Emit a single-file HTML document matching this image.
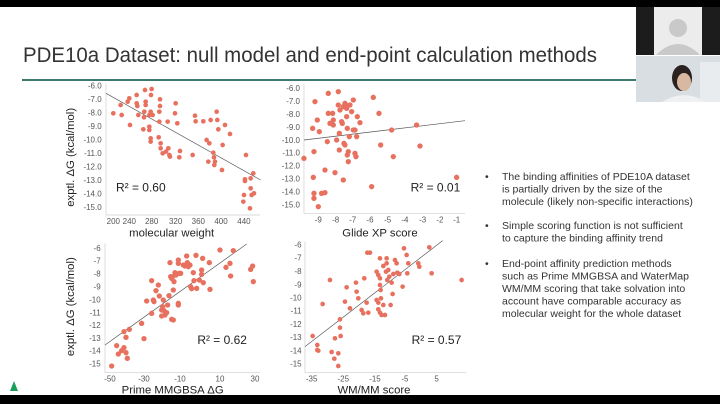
<!DOCTYPE html>
<html><head><meta charset="utf-8"><style>
html,body{margin:0;padding:0;background:#fff;width:720px;height:404px;overflow:hidden;font-family:"Liberation Sans",sans-serif}
</style></head><body>
<svg width="720" height="404" viewBox="0 0 720 404" xmlns="http://www.w3.org/2000/svg" font-family="Liberation Sans, sans-serif">
<rect width="720" height="404" fill="#fff"/>
<rect x="0" y="0" width="720" height="7" fill="#000"/>
<rect x="0" y="395" width="720" height="9" fill="#000"/>
<polygon points="14,381 10,391 18,391" fill="#1a9e5a"/>
<text x="23" y="62" font-size="21" fill="#333" textLength="574" lengthAdjust="spacingAndGlyphs">PDE10a Dataset: null model and end-point calculation methods</text>
<rect x="22" y="79" width="614" height="2" fill="#3d7a6e"/>
<!-- video panels -->
<rect x="636" y="7" width="84" height="48" fill="#1c1c1c"/>
<rect x="654" y="7" width="48" height="48" fill="#ececec"/>
<circle cx="678" cy="28" r="9" fill="#c9c9c9"/>
<path d="M656 55 Q678 33 700 55Z" fill="#c9c9c9"/>
<rect x="636" y="56" width="84" height="46" fill="#d9dee2"/>
<rect x="700" y="62" width="20" height="40" fill="#e8ecee"/>
<ellipse cx="682" cy="78" rx="10" ry="13" fill="#2a2220"/>
<ellipse cx="684" cy="82" rx="7" ry="9" fill="#d8b8a0"/>
<path d="M662 102 Q684 88 706 102Z" fill="#eef0f2"/>

<g transform="translate(0,80) scale(0.3333)" font-size="24" fill="#555">
<!-- chart1 -->
<line x1="318" y1="10" x2="318" y2="405" stroke="#ccc" stroke-width="2"/>
<line x1="318" y1="405" x2="780" y2="405" stroke="#ccc" stroke-width="2"/>
<g text-anchor="end">
<text x="305" y="26">-6.0</text><text x="305" y="66">-7.0</text><text x="305" y="107">-8.0</text><text x="305" y="147">-9.0</text><text x="305" y="188">-10.0</text><text x="305" y="228">-11.0</text><text x="305" y="268">-12.0</text><text x="305" y="309">-13.0</text><text x="305" y="349">-14.0</text><text x="305" y="390">-15.0</text>
</g>
<g text-anchor="middle">
<text x="340" y="432">200</text><text x="388" y="432">240</text><text x="455" y="432">280</text><text x="527" y="432">320</text><text x="595" y="432">360</text><text x="663" y="432">400</text><text x="732" y="432">440</text>
<text x="515" y="470" font-size="34" fill="#222">molecular weight</text>
<text transform="translate(222,232) rotate(-90)" font-size="34" fill="#222">exptl. ΔG (kcal/mol)</text>
</g>
<text x="348" y="335" font-size="36" fill="#222">R² = 0.60</text>
<line x1="318" y1="40" x2="782" y2="300" stroke="#555" stroke-width="2"/>
<g fill="#e8705e">
<circle cx="340" cy="100" r="7"/><circle cx="365" cy="105" r="7"/><circle cx="362" cy="75" r="7"/><circle cx="388" cy="55" r="7"/><circle cx="383" cy="65" r="7"/><circle cx="410" cy="45" r="7"/><circle cx="410" cy="70" r="7"/><circle cx="412" cy="78" r="7"/><circle cx="415" cy="105" r="7"/><circle cx="390" cy="135" r="7"/><circle cx="435" cy="30" r="7"/><circle cx="437" cy="65" r="7"/><circle cx="437" cy="75" r="7"/><circle cx="433" cy="95" r="7"/><circle cx="432" cy="112" r="7"/><circle cx="430" cy="148" r="7"/><circle cx="455" cy="27" r="7"/><circle cx="453" cy="45" r="7"/><circle cx="452" cy="95" r="7"/><circle cx="448" cy="105" r="7"/><circle cx="458" cy="105" r="7"/><circle cx="448" cy="150" r="7"/><circle cx="448" cy="140" r="7"/><circle cx="452" cy="175" r="7"/><circle cx="452" cy="185" r="7"/><circle cx="480" cy="58" r="7"/><circle cx="480" cy="78" r="7"/><circle cx="478" cy="95" r="7"/><circle cx="478" cy="125" r="7"/><circle cx="476" cy="172" r="7"/><circle cx="482" cy="190" r="7"/><circle cx="482" cy="205" r="7"/><circle cx="488" cy="220" r="7"/><circle cx="505" cy="205" r="7"/><circle cx="508" cy="225" r="7"/><circle cx="510" cy="230" r="7"/><circle cx="498" cy="215" r="7"/><circle cx="527" cy="70" r="7"/><circle cx="525" cy="100" r="7"/><circle cx="503" cy="125" r="7"/><circle cx="532" cy="130" r="7"/><circle cx="540" cy="213" r="7"/><circle cx="538" cy="232" r="7"/><circle cx="578" cy="225" r="7"/><circle cx="585" cy="107" r="7"/><circle cx="587" cy="124" r="7"/><circle cx="610" cy="124" r="7"/><circle cx="620" cy="180" r="7"/><circle cx="625" cy="245" r="7"/><circle cx="628" cy="190" r="7"/><circle cx="632" cy="120" r="7"/><circle cx="640" cy="218" r="7"/><circle cx="642" cy="232" r="7"/><circle cx="643" cy="255" r="7"/><circle cx="645" cy="245" r="7"/><circle cx="650" cy="95" r="7"/><circle cx="652" cy="120" r="7"/><circle cx="655" cy="148" r="7"/><circle cx="668" cy="195" r="7"/><circle cx="666" cy="270" r="7"/><circle cx="675" cy="135" r="7"/><circle cx="690" cy="162" r="7"/><circle cx="738" cy="225" r="7"/><circle cx="735" cy="298" r="7"/><circle cx="735" cy="303" r="7"/><circle cx="732" cy="345" r="7"/><circle cx="730" cy="365" r="7"/><circle cx="752" cy="295" r="7"/><circle cx="752" cy="325" r="7"/><circle cx="755" cy="345" r="7"/><circle cx="760" cy="280" r="7"/><circle cx="762" cy="340" r="7"/><circle cx="750" cy="385" r="7"/>
</g>
<!-- chart2 -->
<line x1="912" y1="10" x2="912" y2="400" stroke="#ccc" stroke-width="2"/>
<line x1="912" y1="400" x2="1395" y2="400" stroke="#ccc" stroke-width="2"/>
<g text-anchor="end">
<text x="900" y="33">-6.0</text><text x="900" y="72">-7.0</text><text x="900" y="111">-8.0</text><text x="900" y="150">-9.0</text><text x="900" y="189">-10.0</text><text x="900" y="227">-11.0</text><text x="900" y="266">-12.0</text><text x="900" y="305">-13.0</text><text x="900" y="344">-14.0</text><text x="900" y="383">-15.0</text>
</g>
<g text-anchor="middle">
<text x="955" y="428">-9</text><text x="1007" y="428">-8</text><text x="1058" y="428">-7</text><text x="1110" y="428">-6</text><text x="1163" y="428">-5</text><text x="1215" y="428">-4</text><text x="1268" y="428">-3</text><text x="1320" y="428">-2</text><text x="1370" y="428">-1</text>
<text x="1140" y="470" font-size="34" fill="#222">Glide XP score</text>
</g>
<text x="1232" y="335" font-size="36" fill="#222">R² = 0.01</text>
<line x1="912" y1="180" x2="1395" y2="122" stroke="#555" stroke-width="2"/>
<g fill="#e8705e">
<circle cx="912" cy="235" r="8"/><circle cx="938" cy="145" r="8"/><circle cx="945" cy="65" r="8"/><circle cx="942" cy="215" r="8"/><circle cx="940" cy="292" r="8"/><circle cx="942" cy="340" r="8"/><circle cx="942" cy="355" r="8"/><circle cx="955" cy="380" r="8"/><circle cx="952" cy="120" r="8"/><circle cx="958" cy="155" r="8"/><circle cx="965" cy="340" r="8"/><circle cx="975" cy="338" r="8"/><circle cx="975" cy="270" r="8"/><circle cx="982" cy="185" r="8"/><circle cx="985" cy="40" r="8"/><circle cx="985" cy="100" r="8"/><circle cx="990" cy="130" r="8"/><circle cx="998" cy="100" r="8"/><circle cx="1000" cy="120" r="8"/><circle cx="1000" cy="135" r="8"/><circle cx="1005" cy="278" r="8"/><circle cx="1010" cy="180" r="8"/><circle cx="1015" cy="35" r="8"/><circle cx="1015" cy="75" r="8"/><circle cx="1018" cy="160" r="8"/><circle cx="1020" cy="90" r="8"/><circle cx="1025" cy="125" r="8"/><circle cx="1027" cy="130" r="8"/><circle cx="1030" cy="80" r="8"/><circle cx="1032" cy="190" r="8"/><circle cx="1035" cy="70" r="8"/><circle cx="1038" cy="75" r="8"/><circle cx="1040" cy="85" r="8"/><circle cx="1040" cy="110" r="8"/><circle cx="1042" cy="145" r="8"/><circle cx="1045" cy="215" r="8"/><circle cx="1042" cy="225" r="8"/><circle cx="1045" cy="245" r="8"/><circle cx="1048" cy="170" r="8"/><circle cx="1050" cy="75" r="8"/><circle cx="1055" cy="95" r="8"/><circle cx="1060" cy="150" r="8"/><circle cx="1060" cy="60" r="8"/><circle cx="1065" cy="150" r="8"/><circle cx="1065" cy="220" r="8"/><circle cx="1068" cy="230" r="8"/><circle cx="1070" cy="170" r="8"/><circle cx="1072" cy="110" r="8"/><circle cx="1080" cy="128" r="8"/><circle cx="1115" cy="320" r="8"/><circle cx="1120" cy="52" r="8"/><circle cx="1137" cy="100" r="8"/><circle cx="1142" cy="195" r="8"/><circle cx="1175" cy="150" r="8"/><circle cx="1180" cy="230" r="8"/><circle cx="1250" cy="135" r="8"/><circle cx="1260" cy="198" r="8"/><circle cx="1370" cy="292" r="8"/><circle cx="1030" cy="300" r="8"/><circle cx="1018" cy="210" r="8"/><circle cx="1035" cy="195" r="8"/>
</g>
</g>

<g transform="translate(0,230) scale(0.3333)" font-size="24" fill="#555">
<!-- chart3 -->
<line x1="315" y1="40" x2="315" y2="428" stroke="#ccc" stroke-width="2"/>
<line x1="315" y1="428" x2="780" y2="428" stroke="#ccc" stroke-width="2"/>
<g text-anchor="end">
<text x="302" y="63">-6</text><text x="302" y="101">-7</text><text x="302" y="140">-8</text><text x="302" y="178">-9</text><text x="302" y="217">-10</text><text x="302" y="256">-11</text><text x="302" y="294">-12</text><text x="302" y="333">-13</text><text x="302" y="371">-14</text><text x="302" y="410">-15</text>
</g>
<g text-anchor="middle">
<text x="330" y="455">-50</text><text x="432" y="455">-30</text><text x="540" y="455">-10</text><text x="660" y="455">10</text><text x="765" y="455">30</text>
<text x="518" y="490" font-size="34" fill="#222">Prime MMGBSA ΔG</text>
<text transform="translate(222,230) rotate(-90)" font-size="34" fill="#222">exptl. ΔG (kcal/mol)</text>
</g>
<text x="592" y="342" font-size="36" fill="#222">R² = 0.62</text>
<line x1="315" y1="345" x2="740" y2="42" stroke="#555" stroke-width="2"/>
<g fill="#e8705e">
<circle cx="335" cy="408" r="8"/><circle cx="350" cy="347" r="8"/><circle cx="355" cy="372" r="8"/><circle cx="365" cy="362" r="8"/><circle cx="372" cy="353" r="8"/><circle cx="378" cy="368" r="8"/><circle cx="372" cy="305" r="8"/><circle cx="378" cy="322" r="8"/><circle cx="382" cy="385" r="8"/><circle cx="388" cy="298" r="8"/><circle cx="425" cy="280" r="8"/><circle cx="432" cy="326" r="8"/><circle cx="440" cy="213" r="8"/><circle cx="455" cy="250" r="8"/><circle cx="455" cy="152" r="8"/><circle cx="460" cy="210" r="8"/><circle cx="462" cy="215" r="8"/><circle cx="468" cy="182" r="8"/><circle cx="475" cy="165" r="8"/><circle cx="478" cy="198" r="8"/><circle cx="485" cy="240" r="8"/><circle cx="485" cy="258" r="8"/><circle cx="488" cy="230" r="8"/><circle cx="490" cy="210" r="8"/><circle cx="495" cy="255" r="8"/><circle cx="492" cy="242" r="8"/><circle cx="500" cy="248" r="8"/><circle cx="503" cy="225" r="8"/><circle cx="507" cy="197" r="8"/><circle cx="510" cy="98" r="8"/><circle cx="512" cy="140" r="8"/><circle cx="515" cy="145" r="8"/><circle cx="518" cy="140" r="8"/><circle cx="520" cy="270" r="8"/><circle cx="515" cy="268" r="8"/><circle cx="520" cy="180" r="8"/><circle cx="522" cy="155" r="8"/><circle cx="525" cy="128" r="8"/><circle cx="528" cy="135" r="8"/><circle cx="535" cy="90" r="8"/><circle cx="535" cy="100" r="8"/><circle cx="535" cy="225" r="8"/><circle cx="535" cy="220" r="8"/><circle cx="538" cy="130" r="8"/><circle cx="542" cy="130" r="8"/><circle cx="550" cy="105" r="8"/><circle cx="555" cy="108" r="8"/><circle cx="560" cy="78" r="8"/><circle cx="562" cy="98" r="8"/><circle cx="565" cy="110" r="8"/><circle cx="570" cy="105" r="8"/><circle cx="572" cy="170" r="8"/><circle cx="575" cy="176" r="8"/><circle cx="580" cy="128" r="8"/><circle cx="582" cy="152" r="8"/><circle cx="588" cy="76" r="8"/><circle cx="590" cy="175" r="8"/><circle cx="598" cy="150" r="8"/><circle cx="605" cy="120" r="8"/><circle cx="605" cy="133" r="8"/><circle cx="608" cy="85" r="8"/><circle cx="610" cy="158" r="8"/><circle cx="628" cy="98" r="8"/><circle cx="630" cy="178" r="8"/><circle cx="660" cy="60" r="8"/><circle cx="678" cy="112" r="8"/><circle cx="690" cy="100" r="8"/><circle cx="692" cy="138" r="8"/><circle cx="700" cy="62" r="8"/><circle cx="752" cy="118" r="8"/><circle cx="758" cy="108" r="8"/><circle cx="760" cy="155" r="8"/>
</g>
<!-- chart4 -->
<line x1="915" y1="35" x2="915" y2="428" stroke="#ccc" stroke-width="2"/>
<line x1="915" y1="428" x2="1400" y2="428" stroke="#ccc" stroke-width="2"/>
<g text-anchor="end">
<text x="905" y="53">-6</text><text x="905" y="92">-7</text><text x="905" y="132">-8</text><text x="905" y="172">-9</text><text x="905" y="211">-10</text><text x="905" y="251">-11</text><text x="905" y="291">-12</text><text x="905" y="330">-13</text><text x="905" y="370">-14</text><text x="905" y="410">-15</text>
</g>
<g text-anchor="middle">
<text x="935" y="455">-35</text><text x="1030" y="455">-25</text><text x="1125" y="455">-15</text><text x="1215" y="455">-5</text><text x="1310" y="455">5</text>
<text x="1122" y="490" font-size="34" fill="#222">WM/MM score</text>
</g>
<text x="1235" y="342" font-size="36" fill="#222">R² = 0.57</text>
<line x1="915" y1="350" x2="1328" y2="32" stroke="#555" stroke-width="2"/>
<g fill="#e8705e">
<circle cx="938" cy="318" r="7"/><circle cx="952" cy="345" r="7"/><circle cx="952" cy="360" r="7"/><circle cx="955" cy="362" r="7"/><circle cx="968" cy="222" r="7"/><circle cx="990" cy="150" r="7"/><circle cx="995" cy="366" r="7"/><circle cx="1003" cy="386" r="7"/><circle cx="1005" cy="325" r="7"/><circle cx="1020" cy="293" r="7"/><circle cx="1015" cy="370" r="7"/><circle cx="1015" cy="408" r="7"/><circle cx="1020" cy="268" r="7"/><circle cx="1022" cy="318" r="7"/><circle cx="1035" cy="215" r="7"/><circle cx="1040" cy="172" r="7"/><circle cx="1050" cy="235" r="7"/><circle cx="1068" cy="158" r="7"/><circle cx="1070" cy="185" r="7"/><circle cx="1075" cy="205" r="7"/><circle cx="1085" cy="240" r="7"/><circle cx="1090" cy="250" r="7"/><circle cx="1093" cy="145" r="7"/><circle cx="1100" cy="218" r="7"/><circle cx="1102" cy="68" r="7"/><circle cx="1105" cy="248" r="7"/><circle cx="1110" cy="68" r="7"/><circle cx="1130" cy="210" r="7"/><circle cx="1135" cy="218" r="7"/><circle cx="1135" cy="238" r="7"/><circle cx="1140" cy="248" r="7"/><circle cx="1140" cy="165" r="7"/><circle cx="1142" cy="180" r="7"/><circle cx="1143" cy="205" r="7"/><circle cx="1145" cy="255" r="7"/><circle cx="1150" cy="225" r="7"/><circle cx="1155" cy="255" r="7"/><circle cx="1158" cy="125" r="7"/><circle cx="1160" cy="85" r="7"/><circle cx="1160" cy="100" r="7"/><circle cx="1162" cy="150" r="7"/><circle cx="1165" cy="120" r="7"/><circle cx="1168" cy="140" r="7"/><circle cx="1172" cy="225" r="7"/><circle cx="1175" cy="158" r="7"/><circle cx="1178" cy="192" r="7"/><circle cx="1180" cy="132" r="7"/><circle cx="1185" cy="90" r="7"/><circle cx="1190" cy="100" r="7"/><circle cx="1192" cy="128" r="7"/><circle cx="1198" cy="132" r="7"/><circle cx="1208" cy="170" r="7"/><circle cx="1212" cy="55" r="7"/><circle cx="1220" cy="75" r="7"/><circle cx="1222" cy="130" r="7"/><circle cx="1225" cy="100" r="7"/><circle cx="1255" cy="100" r="7"/><circle cx="1258" cy="110" r="7"/><circle cx="1288" cy="52" r="7"/><circle cx="1295" cy="130" r="7"/><circle cx="1385" cy="150" r="7"/><circle cx="1135" cy="135" r="7"/><circle cx="1140" cy="85" r="7"/><circle cx="1150" cy="108" r="7"/><circle cx="1130" cy="125" r="7"/><circle cx="1140" cy="145" r="7"/>
</g>
</g>

<!-- bullets -->
<g font-size="10.5" fill="#333">
<text x="485" y="180">•</text>
<text x="502" y="180">The binding affinities of PDE10A dataset</text>
<text x="502" y="192.5">is partially driven by the size of the</text>
<text x="502" y="205">molecule (likely non-specific interactions)</text>
<text x="485" y="229">•</text>
<text x="502" y="229">Simple scoring function is not sufficient</text>
<text x="502" y="241.5">to capture the binding affinity trend</text>
<text x="485" y="267">•</text>
<text x="502" y="267">End-point affinity prediction methods</text>
<text x="502" y="279.5">such as Prime MMGBSA and WaterMap</text>
<text x="502" y="292">WM/MM scoring that take solvation into</text>
<text x="502" y="304.5">account have comparable accuracy as</text>
<text x="502" y="317">molecular weight for the whole dataset</text>
</g>
</svg>
</body></html>
